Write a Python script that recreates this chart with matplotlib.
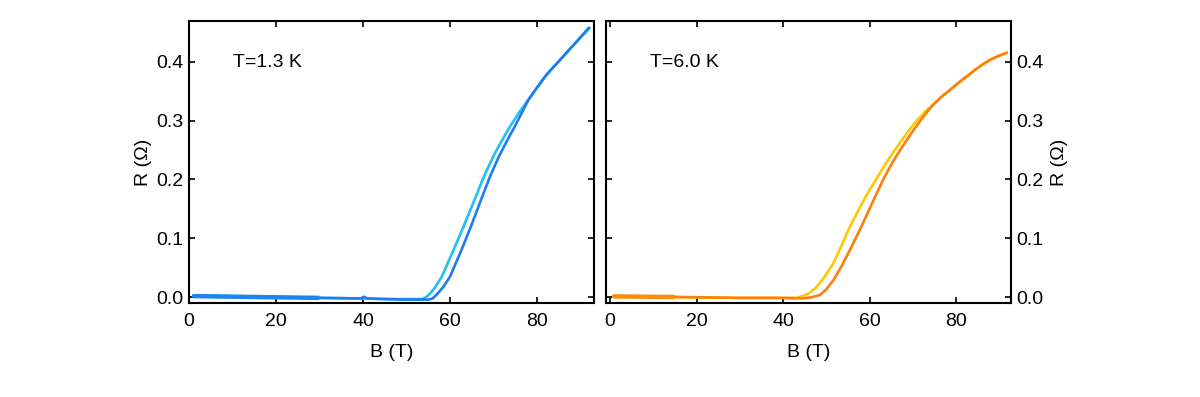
import matplotlib
matplotlib.use('Agg')
import matplotlib.pyplot as plt

plt.rcParams['font.family'] = ['Liberation Sans', 'DejaVu Sans']

# T = 1.3 K, two sweeps (light cyan and blue)
b_cyan = [1, 10, 20, 30, 40, 45, 50, 53.5, 54.5, 55.5, 56.5, 58.1, 60.5, 63.1, 65.5, 67.8, 70.0, 72.0, 73.8,
          76.0, 78.0, 80.0, 82.2, 85.3, 88.0, 91.8]
r_cyan = [0.003, 0.002, 0.000, -0.001, -0.002, -0.003, -0.003, -0.003, 0.000, 0.007, 0.016, 0.035, 0.075, 0.120,
          0.163, 0.205, 0.240, 0.267, 0.290, 0.315, 0.335, 0.356, 0.378, 0.403, 0.425, 0.457]
b_blue = [1, 10, 20, 30, 39.5, 40.2, 41, 45, 50, 55.0, 56.0, 57.0, 58.5, 60.0, 62.5, 64.8, 67.0, 69.2, 71.3,
          73.2, 74.9, 76.5, 78.0, 80.0, 82.2, 85.3, 88.0, 92.0]
r_blue = [0.002, 0.001, 0.000, -0.001, -0.002, 0.001, -0.002, -0.003, -0.004, -0.004, -0.002, 0.005, 0.018,
          0.035, 0.078, 0.120, 0.163, 0.205, 0.240, 0.267, 0.290, 0.313, 0.335, 0.356, 0.378, 0.403, 0.425, 0.457]

# T = 6.0 K, two sweeps (yellow and orange)
b_yellow = [0.8, 10, 20, 30, 40, 43.0, 44.5, 46.0, 47.5, 49.3, 51.6, 53.5, 55.4, 57.4, 59.3, 61.6, 63.5, 65.5,
            67.5, 69.3, 71.0, 72.6, 74.7, 76.5, 78.5, 80.8, 82.4, 84.3, 86.2, 88.0, 89.8, 91.6]
r_yellow = [0.002, 0.001, 0.000, -0.001, -0.001, -0.001, 0.002, 0.007, 0.016, 0.032, 0.058, 0.088, 0.120, 0.148,
            0.174, 0.202, 0.225, 0.247, 0.268, 0.286, 0.301, 0.314, 0.328, 0.340, 0.352, 0.366, 0.375, 0.386,
            0.396, 0.404, 0.410, 0.415]
b_orange = [0.8, 8, 15, 20, 30, 39.3, 44.6, 46.5, 48.5, 50.0, 51.6, 53.5, 55.4, 57.4, 59.3, 61.2, 63.1, 65.0, 67.0,
            68.8, 70.4, 72.0, 73.6, 74.7, 76.5, 78.5, 80.8, 82.4, 84.3, 86.2, 88.0, 89.8, 91.6]
r_orange = [0.0015, 0.001, 0.0005, 0.000, -0.001, -0.001, -0.002, 0.000, 0.004, 0.014, 0.029, 0.053, 0.080, 0.110,
            0.140, 0.170, 0.200, 0.226, 0.250, 0.270, 0.287, 0.303, 0.318, 0.327, 0.340, 0.352, 0.366, 0.375,
            0.386, 0.396, 0.404, 0.410, 0.415]

yticks = [0.0, 0.1, 0.2, 0.3, 0.4]
xticks = [0, 20, 40, 60, 80]

fig = plt.figure(figsize=(12, 3.97), dpi=100)
ax1 = fig.add_axes([189/1200, 1 - 303/397, 405/1200, 282/397])
ax2 = fig.add_axes([606/1200, 1 - 303/397, 405/1200, 282/397])

ax1.plot(b_cyan, r_cyan, color='#1ec0f5', lw=1.9)
ax1.plot(b_blue, r_blue, color='#1e7cf0', lw=1.9)
# noisy low-field part looks thicker
ax1.plot(b_blue[:4], r_blue[:4], color='#1e84f2', lw=3.2, solid_capstyle='butt')
ax2.plot(b_yellow, r_yellow, color='#ffc800', lw=1.9)
ax2.plot(b_orange, r_orange, color='#ff7f0a', lw=1.9)
ax2.plot(b_orange[:3], r_orange[:3], color='#ff8a10', lw=3.2, solid_capstyle='butt')

ax1.set_xlim(0, 93.1)
ax2.set_xlim(-0.9, 92.6)
for ax in (ax1, ax2):
    ax.set_ylim(-0.0097, 0.469)
    ax.set_xticks(xticks)
    ax.set_yticks(yticks)
    ax.set_yticklabels(['%.1f' % v for v in yticks])
    ax.tick_params(direction='in', top=True, right=True, left=True, bottom=True,
                   length=4, width=1.2, labelsize=14, pad=4)
    ax.tick_params(axis='x', pad=7)
    for s in ax.spines.values():
        s.set_linewidth(1.5)
    ax.set_xlabel('B (T)', fontsize=14, labelpad=10)

ax1.set_ylabel('R (Ω)', fontsize=14, labelpad=3)
ax2.tick_params(labelleft=False, labelright=True)
ax2.yaxis.set_label_position('right')
ax2.set_ylabel('R (Ω)', fontsize=14, labelpad=5, rotation=90)

ax1.text(10.1, 0.398, 'T=1.3 K', fontsize=14, va='center')
ax2.text(9.2, 0.398, 'T=6.0 K', fontsize=14, va='center')

fig.savefig('out.png', dpi=100)
